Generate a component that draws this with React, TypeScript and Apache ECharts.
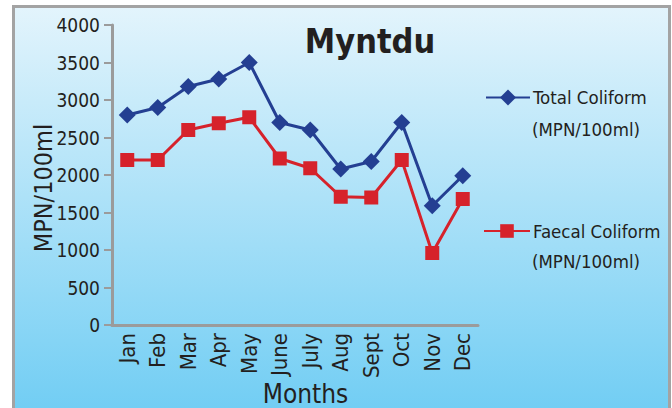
import React, { useEffect, useRef } from "react";
import * as echarts from "echarts";

const months = ["Jan", "Feb", "Mar", "Apr", "May", "June", "July", "Aug", "Sept", "Oct", "Nov", "Dec"];
const totalColiform = [2800, 2900, 3180, 3280, 3500, 2700, 2600, 2080, 2180, 2700, 1590, 1990];
const faecalColiform = [2200, 2200, 2600, 2690, 2770, 2220, 2090, 1710, 1700, 2200, 960, 1680];
const totalName = "Total Coliform";
const faecalName = "Faecal Coliform";
const unitText = "(MPN/100ml)";

const FONT = "'DejaVu Sans Condensed', 'Liberation Sans Narrow', Lato, sans-serif";
const BLUE = "#243f92";
const RED = "#d6222b";
const AXIS = "#9b9b9b";
const TEXT = "#231f20";
const LEG = 18.5;

export default function App() {
  const ref = useRef<HTMLDivElement>(null);
  useEffect(() => {
    if (!ref.current) return;
    const chart = echarts.init(ref.current, undefined, { renderer: "svg" });
    chart.setOption({
      animation: false,
      backgroundColor: "#ffffff",
      graphic: [
        {
          type: "rect",
          z: -10,
          silent: true,
          shape: { x: 13.5, y: 6.5, width: 656, height: 430 },
          style: {
            fill: {
              type: "linear", x: 0, y: 0, x2: 0, y2: 1,
              colorStops: [
                { offset: 0, color: "#e3f4fc" },
                { offset: 1, color: "#6acbf3" },
              ],
            },
            stroke: "#a3a3a3",
            lineWidth: 3,
          },
        },
        {
          type: "text",
          left: 532,
          top: 120,
          style: { text: unitText, font: `${LEG}px ${FONT}`, fill: TEXT },
        },
        {
          type: "text",
          left: 532,
          top: 252,
          style: { text: unitText, font: `${LEG}px ${FONT}`, fill: TEXT },
        },
      ],
      title: {
        text: "Myntdu",
        left: 365,
        textAlign: "center",
        top: 19,
        textStyle: { fontFamily: FONT, fontWeight: "bold", fontSize: 34, color: TEXT },
      },
      legend: [
        {
          data: [totalName],
          left: 485,
          top: 88,
          padding: 0,
          itemWidth: 44,
          itemHeight: 20,
          textStyle: { fontFamily: FONT, fontSize: LEG, color: TEXT, padding: [3, 0, 0, -2] },
        },
        {
          data: [faecalName],
          left: 483,
          top: 221.5,
          padding: 0,
          itemWidth: 46,
          itemHeight: 17,
          textStyle: { fontFamily: FONT, fontSize: LEG, color: TEXT, padding: [3, 0, 0, -2] },
        },
      ],
      grid: { left: 112, top: 25, right: 194, bottom: 83, containLabel: false, outerBoundsMode: "none" },
      xAxis: {
        type: "category",
        data: months,
        boundaryGap: true,
        name: "Months",
        nameLocation: "middle",
        nameGap: 56,
        nameMoveOverlap: false,
        nameTextStyle: { fontFamily: FONT, fontSize: 26, color: TEXT, padding: [0, 0, 0, 21] },
        axisLine: { lineStyle: { color: AXIS, width: 3 } },
        axisTick: { show: false },
        axisLabel: { rotate: 90, margin: 8, fontFamily: FONT, fontSize: 22, color: TEXT, interval: 0 },
      },
      yAxis: {
        type: "value",
        min: 0,
        max: 4000,
        interval: 500,
        name: "MPN/100ml",
        nameLocation: "middle",
        nameGap: 56,
        nameMoveOverlap: false,
        nameTextStyle: { fontFamily: FONT, fontSize: 25, color: TEXT, padding: [0, 26, 0, 0] },
        axisLine: { show: true, lineStyle: { color: AXIS, width: 3 } },
        axisTick: { show: true, length: 8, lineStyle: { color: AXIS, width: 2 } },
        splitLine: { show: false },
        axisLabel: {
          margin: 12,
          fontFamily: FONT,
          fontSize: 19,
          color: TEXT,
          formatter: (v: number) => String(v),
        },
      },
      series: [
        {
          name: totalName,
          type: "line",
          data: totalColiform,
          symbol: "diamond",
          symbolSize: 17,
          lineStyle: { color: BLUE, width: 3 },
          itemStyle: { color: BLUE },
        },
        {
          name: faecalName,
          type: "line",
          data: faecalColiform,
          symbol: "rect",
          symbolSize: 14,
          lineStyle: { color: RED, width: 3 },
          itemStyle: { color: RED },
        },
      ],
    });
    return () => chart.dispose();
  }, []);
  return (
    <div
      ref={ref}
      style={{ position: "fixed", left: 0, top: 0, width: 672, height: 408 }}
    />
  );
}
